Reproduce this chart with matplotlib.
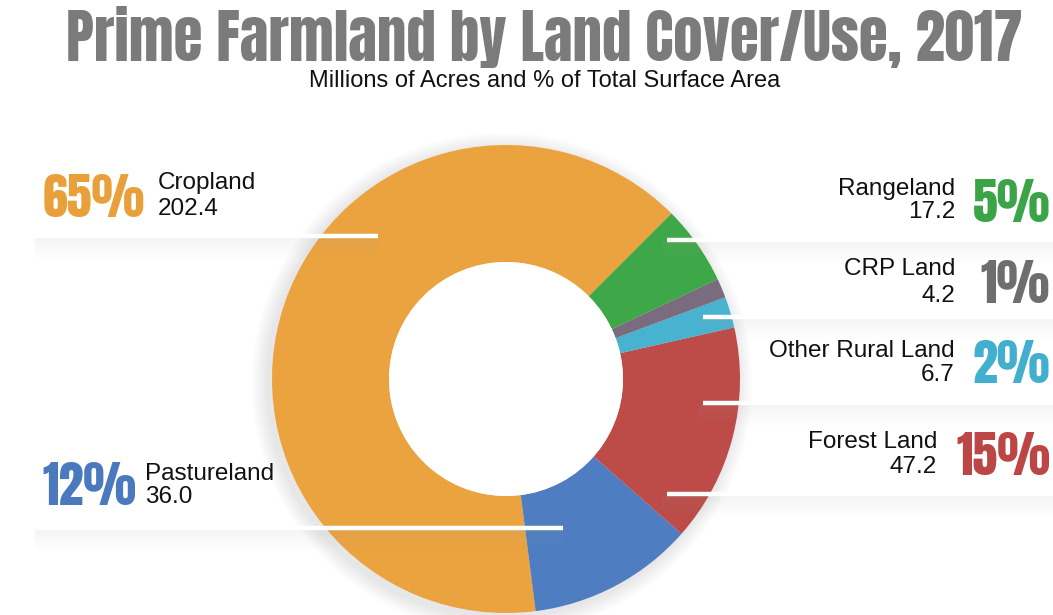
import numpy as np
import matplotlib.pyplot as plt
from matplotlib.patches import Rectangle, Circle

# data
labels = ['Cropland', 'Pastureland', 'Forest Land', 'Other Rural Land', 'CRP Land', 'Rangeland']
acres = [202.4, 36.0, 47.2, 6.7, 4.2, 17.2]
pcts = ['65%', '12%', '15%', '2%', '1%', '5%']
colors = ['#EBA33F', '#4E7EC1', '#BD4B48', '#48B3D0', '#7A6B7F', '#3EA848']
pct_colors = ['#E9A03A', '#4A79BE', '#BC4645', '#43AFCF', '#6E6E6E', '#3BA447']

W, H = 1053, 615
impact = ['Anton', 'DejaVu Sans']
sans = ['Liberation Sans', 'DejaVu Sans']

fig = plt.figure(figsize=(W / 100, H / 100), dpi=100)
ax = fig.add_axes([0, 0, 1, 1])

# donut (y axis inverted below, so angles run the other way)
cx, cy, r = 506, 379, 234
for k in range(8):
    ax.add_patch(Circle((cx - 4, cy + 4), r + 2 + k * 2, color='#808080', alpha=0.025, lw=0))
ax.pie(acres, colors=colors, center=(cx, cy), radius=r, startangle=-45,
       counterclock=False, wedgeprops=dict(width=r * 0.5, linewidth=0))
ax.add_patch(Circle((cx, cy), r * 0.5, color='white', lw=0, zorder=2))

ax.set_xlim(0, W)
ax.set_ylim(H, 0)
ax.set_aspect('auto')
ax.axis('off')

# leader lines with soft shadow bands
lines = [(40, 378, 236), (40, 563, 528), (667, W, 240), (703, W, 317),
         (703, W, 403), (667, W, 494)]
for x0, x1, y in lines:
    for k in range(10):
        ax.add_patch(Rectangle((x0 - 5, y + 2 + k * 2), x1 - x0 + 5, 2,
                               color='#9a9a9a', alpha=0.10 * (1 - k / 10), lw=0, zorder=3))
    ax.plot([x0, x1], [y, y], color='white', lw=3.2, solid_capstyle='butt', zorder=4)

# title
ax.text(544, 61, 'Prime Farmland by Land Cover/Use, 2017', ha='center', va='baseline',
        fontsize=42.5, color='#7b7b7b', family=impact)
ax.text(545, 87, 'Millions of Acres and % of Total Surface Area', ha='center', va='baseline',
        fontsize=17, color='#111111', family=sans)

fs = 17.5
pfs = 36
# left labels: (index, pct x, text x, name baseline, value baseline, pct baseline)
left = [(0, 43, 158, 189, 215, 217), (1, 42, 145, 480, 503, 505)]
for i, px, tx, yn, yv, yp in left:
    ax.text(px, yp, pcts[i], ha='left', va='baseline', fontsize=pfs,
            color=pct_colors[i], family=impact, zorder=5)
    ax.text(tx, yn, labels[i], ha='left', va='baseline', fontsize=fs, color='#111111',
            family=sans, zorder=5)
    ax.text(tx, yv, f'{acres[i]:.1f}', ha='left', va='baseline', fontsize=fs,
            color='#111111', family=sans, zorder=5)

# right labels
right = [(5, 955, 195, 218, 222), (4, 955, 275, 302, 303), (3, 955, 357, 381, 383),
         (2, 937, 448, 473, 475)]
for i, tx, yn, yv, yp in right:
    ax.text(1050, yp, pcts[i], ha='right', va='baseline', fontsize=pfs,
            color=pct_colors[i], family=impact, zorder=5)
    ax.text(tx, yn, labels[i], ha='right', va='baseline', fontsize=fs, color='#111111',
            family=sans, zorder=5)
    ax.text(tx, yv, f'{acres[i]:.1f}', ha='right', va='baseline', fontsize=fs,
            color='#111111', family=sans, zorder=5)

fig.savefig('out.png', dpi=100, facecolor='white')
